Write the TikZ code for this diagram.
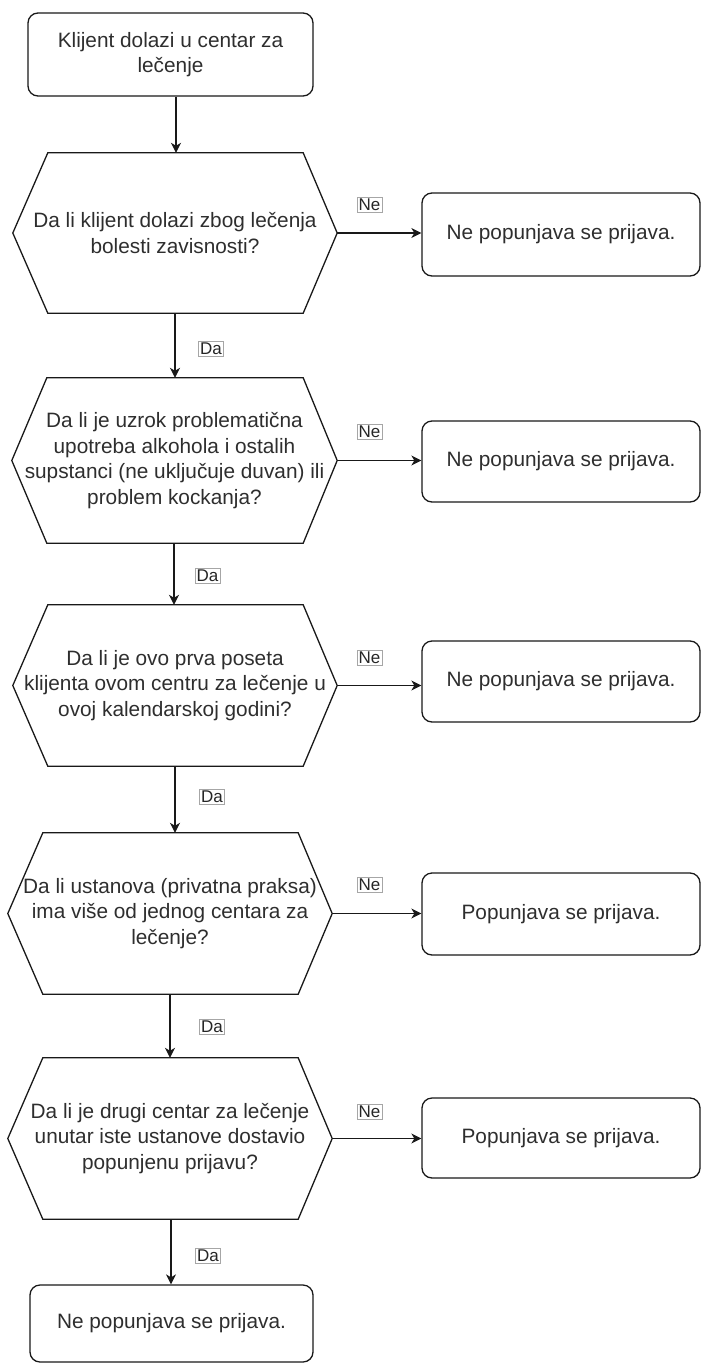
\documentclass[tikz,border=0pt]{standalone}
\usepackage{fontspec}
\setmainfont{Liberation Sans}
\usetikzlibrary{arrows.meta}
\newcommand\hexof[1]{\draw[shapeline] (#1.west) -- ([xshift=35]#1.north west) -- ([xshift=-34]#1.north east) -- (#1.east) -- ([xshift=-34]#1.south east) -- ([xshift=35]#1.south west) -- cycle;}
\begin{document}
\begin{tikzpicture}[x=1pt,y=-1pt,
  shapeline/.style={draw=black!90, line width=1.3pt},
  txt/.style={font=\fontsize{20.8}{25.5}\selectfont, text=black!82, align=center, inner sep=0pt},
  rbox/.style={txt, shapeline, rounded corners=10pt},
  hexbox/.style={txt, draw=none},
  lbl/.style={font=\fontsize{17}{19}\selectfont, text=black!85, draw=black!35, line width=0.5pt, fill=white, inner sep=1.5pt},
  arr/.style={line width=1.3pt, draw=black!90, -{Stealth[length=10pt,width=10pt,inset=3pt]}}
]
\useasboundingbox (0,0) rectangle (702,1364);

\node[rbox, minimum width=285, minimum height=83] (start) at (170.5,54.5) {Klijent dolazi u centar za\\lečenje};

\node[hexbox, minimum width=324, minimum height=160] (h1) at (175,233) {Da li klijent dolazi zbog lečenja\\bolesti zavisnosti?};
\node[hexbox, minimum width=325, minimum height=165] (h2) at (174.5,460.5) {Da li je uzrok problematična\\upotreba alkohola i ostalih\\supstanci (ne uključuje duvan) ili\\problem kockanja?};
\node[hexbox, minimum width=324, minimum height=161] (h3) at (175,685.5) {Da li je ovo prva poseta\\klijenta ovom centru za lečenje u\\ovoj kalendarskoj godini?};
\node[hexbox, minimum width=324, minimum height=161] (h4) at (170,913.5) {Da li ustanova (privatna praksa)\\ima više od jednog centara za\\lečenje?};
\node[hexbox, minimum width=324, minimum height=161] (h5) at (170,1138.5) {Da li je drugi centar za lečenje\\unutar iste ustanove dostavio\\popunjenu prijavu?};
\hexof{h1}\hexof{h2}\hexof{h3}\hexof{h4}\hexof{h5}

\node[rbox, minimum width=278, minimum height=83] (r1) at (561,234.5) {Ne popunjava se prijava.};
\node[rbox, minimum width=278, minimum height=81] (r2) at (561,461.5) {Ne popunjava se prijava.};
\node[rbox, minimum width=278, minimum height=81] (r3) at (561,681.5) {Ne popunjava se prijava.};
\node[rbox, minimum width=278, minimum height=82] (r4) at (561,914) {Popunjava se prijava.};
\node[rbox, minimum width=278, minimum height=80] (r5) at (561,1138) {Popunjava se prijava.};

\node[rbox, minimum width=283, minimum height=77] (end) at (171.5,1323.5) {Ne popunjava se prijava.};

% vertical arrows
\draw[arr] ([xshift=5.5]start.south) -- ([xshift=1]h1.north);
\draw[arr] (h1.south) -- ([xshift=0.5]h2.north);
\draw[arr] ([xshift=-0.5]h2.south) -- ([xshift=-1]h3.north);
\draw[arr] (h3.south) -- ([xshift=5]h4.north);
\draw[arr] (h4.south) -- (h5.north);
\draw[arr] ([xshift=1]h5.south) -- ([xshift=-0.5]end.north);

% horizontal arrows
\draw[arr] (h1.east) -- (h1.east -| r1.west);
\draw[arr] (h2.east) -- (h2.east -| r2.west);
\draw[arr] (h3.east) -- (h3.east -| r3.west);
\draw[arr] (h4.east) -- (h4.east -| r4.west);
\draw[arr] (h5.east) -- (h5.east -| r5.west);

% labels
\node[lbl] (ne1) at (369.5,205) {Ne};
\node[lbl] (ne2) at (369.5,432) {Ne};
\node[lbl] (ne3) at (369.5,658) {Ne};
\node[lbl] (ne4) at (369.5,885) {Ne};
\node[lbl] (ne5) at (369.5,1112) {Ne};
\node[lbl] (da1) at (211,349) {Da};
\node[lbl] (da2) at (207.5,576) {Da};
\node[lbl] (da3) at (212,797) {Da};
\node[lbl] (da4) at (212,1027) {Da};
\node[lbl] (da5) at (208,1256) {Da};
\end{tikzpicture}
\end{document}
